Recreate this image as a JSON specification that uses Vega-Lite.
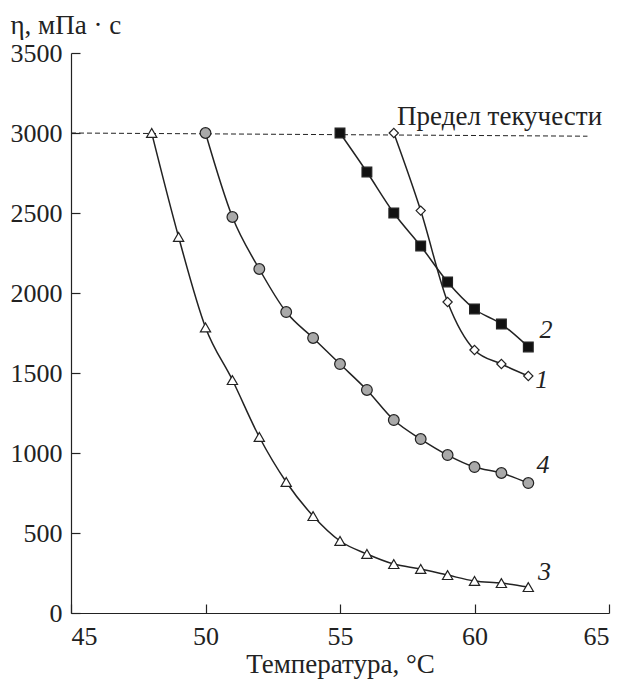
{
  "$schema": "https://vega.github.io/schema/vega-lite/v6.json",
  "width": 538,
  "height": 560,
  "autosize": "none",
  "padding": {"left": 71, "top": 53, "right": 18, "bottom": 67},
  "background": "white",
  "config": {
    "view": {"stroke": null},
    "font": "Liberation Serif",
    "axis": {
      "grid": false,
      "domainColor": "#222",
      "domainWidth": 1.2,
      "tickColor": "#222",
      "tickWidth": 1.2,
      "tickSize": -9,
      "labelFont": "Liberation Serif",
      "labelFontSize": 26,
      "labelColor": "#222",
      "titleFont": "Liberation Serif",
      "titleFontSize": 27,
      "titleFontWeight": "normal",
      "titleColor": "#222"
    }
  },
  "datasets": {
    "curves": [
      {"s": "1", "t": 57, "v": 3000}, {"s": "1", "t": 58, "v": 2515}, {"s": "1", "t": 59, "v": 1944}, {"s": "1", "t": 60, "v": 1644}, {"s": "1", "t": 61, "v": 1556}, {"s": "1", "t": 62, "v": 1481},
      {"s": "2", "t": 55, "v": 3000}, {"s": "2", "t": 56, "v": 2756}, {"s": "2", "t": 57, "v": 2500}, {"s": "2", "t": 58, "v": 2294}, {"s": "2", "t": 59, "v": 2069}, {"s": "2", "t": 60, "v": 1900}, {"s": "2", "t": 61, "v": 1806}, {"s": "2", "t": 62, "v": 1663},
      {"s": "3", "t": 48, "v": 3000}, {"s": "3", "t": 49, "v": 2350}, {"s": "3", "t": 50, "v": 1785}, {"s": "3", "t": 51, "v": 1456}, {"s": "3", "t": 52, "v": 1100}, {"s": "3", "t": 53, "v": 819}, {"s": "3", "t": 54, "v": 606}, {"s": "3", "t": 55, "v": 450}, {"s": "3", "t": 56, "v": 369}, {"s": "3", "t": 57, "v": 306}, {"s": "3", "t": 58, "v": 275}, {"s": "3", "t": 59, "v": 237}, {"s": "3", "t": 60, "v": 200}, {"s": "3", "t": 61, "v": 187}, {"s": "3", "t": 62, "v": 162},
      {"s": "4", "t": 50, "v": 3000}, {"s": "4", "t": 51, "v": 2475}, {"s": "4", "t": 52, "v": 2150}, {"s": "4", "t": 53, "v": 1881}, {"s": "4", "t": 54, "v": 1719}, {"s": "4", "t": 55, "v": 1556}, {"s": "4", "t": 56, "v": 1394}, {"s": "4", "t": 57, "v": 1206}, {"s": "4", "t": 58, "v": 1087}, {"s": "4", "t": 59, "v": 987}, {"s": "4", "t": 60, "v": 912}, {"s": "4", "t": 61, "v": 875}, {"s": "4", "t": 62, "v": 812}
    ],
    "limit": [{"t": 45, "v": 3000}, {"t": 64.2, "v": 2980}],
    "labels": [
      {"s": "1", "t": 62.5, "v": 1456},
      {"s": "2", "t": 62.66, "v": 1769},
      {"s": "3", "t": 62.6, "v": 256},
      {"s": "4", "t": 62.55, "v": 925}
    ],
    "note": [{"label": "Предел текучести", "t": 57.12, "v": 3050}]
  },
  "layer": [
    {
      "data": {"name": "limit"},
      "mark": {"type": "line", "stroke": "#222", "strokeWidth": 1, "strokeDash": [5, 3]},
      "encoding": {
        "x": {"field": "t", "type": "quantitative", "scale": {"domain": [45, 65], "nice": false, "zero": false},
          "axis": {"values": [45, 50, 55, 60, 65], "format": "d", "title": "Температура, °C", "labelPadding": 19, "titleBaseline": "alphabetic", "titleY": 59}},
        "y": {"field": "v", "type": "quantitative", "scale": {"domain": [0, 3500], "nice": false},
          "axis": {"values": [0, 500, 1000, 1500, 2000, 2500, 3000, 3500], "format": "d", "title": "η, мПа · с", "titleAngle": 0, "titleAlign": "left", "titleBaseline": "alphabetic", "titleX": -61, "titleY": -20, "labelPadding": 18}}
      }
    },
    {
      "data": {"name": "curves"},
      "mark": {"type": "line", "stroke": "#222", "strokeWidth": 1.5, "interpolate": "monotone"},
      "encoding": {
        "x": {"field": "t", "type": "quantitative"},
        "y": {"field": "v", "type": "quantitative"},
        "detail": {"field": "s"}
      }
    },
    {
      "data": {"name": "curves"},
      "mark": {"type": "point", "filled": true, "stroke": "#222", "strokeWidth": 1.2, "opacity": 1},
      "encoding": {
        "x": {"field": "t", "type": "quantitative"},
        "y": {"field": "v", "type": "quantitative"},
        "shape": {"field": "s", "type": "nominal", "scale": {"domain": ["1", "2", "3", "4"], "range": ["diamond", "square", "triangle-up", "circle"]}, "legend": null},
        "fill": {"field": "s", "type": "nominal", "scale": {"domain": ["1", "2", "3", "4"], "range": ["#ffffff", "#111111", "#ffffff", "#a9a9a9"]}, "legend": null},
        "size": {"field": "s", "type": "nominal", "scale": {"domain": ["1", "2", "3", "4"], "range": [85, 115, 110, 120]}, "legend": null}
      }
    },
    {
      "data": {"name": "labels"},
      "mark": {"type": "text", "font": "Liberation Serif", "fontStyle": "italic", "fontSize": 26, "align": "center", "baseline": "middle", "color": "#222"},
      "encoding": {
        "x": {"field": "t", "type": "quantitative"},
        "y": {"field": "v", "type": "quantitative"},
        "text": {"field": "s"}
      }
    },
    {
      "data": {"name": "note"},
      "mark": {"type": "text", "font": "Liberation Serif", "fontSize": 27, "align": "left", "baseline": "alphabetic", "color": "#222"},
      "encoding": {
        "x": {"field": "t", "type": "quantitative"},
        "y": {"field": "v", "type": "quantitative"},
        "text": {"field": "label"}
      }
    }
  ]
}
